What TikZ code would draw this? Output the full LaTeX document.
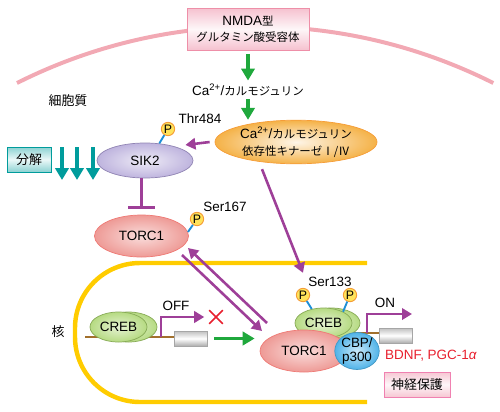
\documentclass[tikz,border=0pt]{standalone}
\usepackage{fontspec}
\setmainfont{Liberation Sans}
\newfontfamily\jp{Noto Sans CJK JP}[Scale=0.85]
\usepackage{tikz}
\usetikzlibrary{arrows.meta,shapes.geometric,shapes.misc,positioning}
\definecolor{membrane} {HTML}{F2A9B4}
\definecolor{recpink}  {HTML}{EE8FA8}
\definecolor{leaf}     {HTML}{1FA83C}
\definecolor{plum}     {HTML}{9E3F98}
\definecolor{tealink}  {HTML}{009C9C}
\definecolor{amber}    {HTML}{F4AE3E}
\definecolor{lilac}    {HTML}{A99BD3}
\definecolor{salmon}   {HTML}{EC8F8A}
\definecolor{moss}     {HTML}{A9D46C}
\definecolor{sky}      {HTML}{4FB3E8}
\definecolor{gold}     {HTML}{FFCC00}
\definecolor{bark}     {HTML}{A2702C}
\definecolor{pyellow}  {HTML}{FFE35A}
\definecolor{stick}    {HTML}{1E8FD6}
\definecolor{alarm}    {HTML}{E8202E}
\tikzset{
  every node/.style={font=\fontsize{11.5}{13.6}\selectfont},
  % --- nodes
  box/.style   = {draw, align=center, inner sep=2pt, line width=0.8pt},
  rec/.style   = {box, draw=recpink, top color=recpink!55, bottom color=recpink!55,
                  middle color=recpink!8, minimum width=36.6mm, minimum height=12.6mm},
  decay/.style = {box, draw=tealink, top color=tealink!45, bottom color=tealink!45,
                  middle color=tealink!8, minimum width=13.2mm, minimum height=7.5mm},
  guard/.style = {box, draw=recpink!90!magenta, top color=recpink!50, bottom color=recpink!50,
                  middle color=recpink!8, minimum width=19.8mm, minimum height=7.5mm},
  blob/.style  = {ellipse, draw, line width=0.6pt, align=center, inner sep=0pt},
  camk/.style  = {blob, draw=amber!90!red, inner color=amber!12, outer color=amber!95,
                  minimum width=48.6mm, minimum height=12.6mm},
  sik/.style   = {blob, draw=lilac!85!black, inner color=lilac!20, outer color=lilac!75,
                  minimum width=28.8mm, minimum height=10.5mm},
  torc/.style  = {blob, draw=salmon!85!red, inner color=salmon!30, outer color=salmon!90,
                  minimum width=28.2mm, minimum height=12.6mm},
  creb/.style  = {blob, draw=moss!80!black, inner color=moss!30, outer color=moss!85,
                  minimum width=17.1mm, minimum height=9mm},
  cbp/.style   = {blob, draw=sky!85!black, inner color=sky!30, outer color=sky,
                  minimum width=12.6mm, minimum height=9.6mm},
  phos/.style  = {circle, draw=amber!90!red, fill=pyellow, inner sep=0pt, minimum size=4mm,
                  line width=0.8pt, font=\fontsize{10.5}{10.5}\selectfont},
  lbl/.style   = {inner sep=1pt},
  % --- edges
  memb/.style  = {line width=3.4pt, draw=membrane},
  nuc/.style   = {line width=3.8pt, draw=gold, rounded corners=19.5mm},
  dna/.style   = {line width=2.5pt, draw=bark},
  ga/.style    = {-{Triangle[length=3.6mm,width=4mm]}, line width=3.2pt, draw=leaf},
  ta/.style    = {-{Triangle[length=3.6mm,width=4mm]}, line width=3.2pt, draw=tealink},
  pa/.style    = {-{Triangle[length=3mm,width=3.4mm]}, line width=2.2pt, draw=plum},
  inh/.style   = {-{Bar[width=8mm]}, line width=2.2pt, draw=plum},
  stk/.style   = {line width=1.6pt, draw=stick},
}
\begin{document}
\begin{tikzpicture}[x=0.3mm, y=-0.3mm,
  gbox/.style={draw=black!35, line width=0.6pt, top color=black!25, bottom color=black!32,
               middle color=white, minimum width=9.9mm, minimum height=4.5mm, inner sep=0pt},
]
  \useasboundingbox (0,0) rectangle (500,411);

  % membrane and nucleus
  \draw[memb] (17,83) arc[start angle=-116.7, end angle=-63.3, radius=530];
  \draw[nuc] (367,263) -- (75,263) -- (75,402) -- (367,402);

  % promoters
  \node[gbox] (gbL) at (190.5,338.5) {};
  \node[gbox] (gbR) at (395.5,335.5) {};
  \coordinate (dnaL) at (85,337);
  \coordinate (dnaR) at (350,333);
  \draw[dna] (dnaL) -- (dnaL -| gbL.west);
  \draw[dna] (dnaR) -- (dnaR -| gbR.west);

  \node[rec] (rec) at (248,29) {NMDA{\jp 型}\\{\jp グルタミン酸受容体}};
  \node[lbl] (calm) at (248,90) {Ca\textsuperscript{2+}/{\jp カルモジュリン}};
  \node[camk] (camk) at (296,142)
    {Ca\textsuperscript{2+}/{\jp カルモジュリン}\\[1pt]{\jp 依存性キナーゼⅠ/Ⅳ}};
  \node[lbl] (cyto) at (68,101) {\jp\fontsize{13}{13}\selectfont 細胞質};
  \node[lbl] (nucl) at (58,332) {\jp\fontsize{13}{13}\selectfont 核};

  \node[sik] (sik2) at (145,160.5) {SIK2};
  \node[decay] (decay) at (29,159.5) {\jp\fontsize{13}{13}\selectfont 分解};
  \node[phos] (p1) at (168,129) {P};
  \node[lbl] (thr) at (200,119) {Thr484};

  \node[torc] (torcA) at (141.5,236) {TORC1};
  \node[phos] (p2) at (197,219) {P};
  \node[lbl] (ser167) at (225,207) {Ser167};

  % CREB off
  \node[creb] (crebL2) at (128.5,327) {};
  \node[creb] (crebL) at (118.5,327) {CREB};
  \node[lbl] (off) at (176,306) {OFF};
  \node[cross out, draw=alarm, line width=1.3pt, minimum size=3.6mm, inner sep=0pt] (xm) at (216,317) {};

  % CREB on
  \node[creb] (crebR2) at (331.5,323) {};
  \node[creb] (crebR) at (323.5,323) {CREB};
  \node[torc, minimum width=26.4mm] (torcB) at (304,351) {TORC1};
  \node[cbp] (cbp) at (357,351) {CBP/\\[-2pt]p300};
  \node[phos] (pL) at (303,295) {P};
  \node[phos] (pR) at (350,295) {P};
  \node[lbl] (ser133) at (330,282) {Ser133};
  \node[lbl] (on) at (385,303) {ON};
  \node[lbl, text=alarm] (bdnf) at (431,356) {BDNF, PGC-1\textit{α}};
  \node[guard] (guard) at (417,384.5) {\jp\fontsize{13}{13}\selectfont 神経保護};

  % phospho sticks
  \draw[stk] (p1) -- (sik2.50);
  \draw[stk] (p2) -- (torcA.5);
  \draw[stk] (pL) -- (crebR.130);
  \draw[stk] (pR) -- (crebR.30);

  % arrows
  \draw[ga] ([yshift=-1mm]rec.south) -- ([yshift=0.6mm]calm.north);
  \draw[ga] ([yshift=-0.6mm]calm.south) -- (calm.south |- camk.north);
  \draw[pa] ([xshift=-1.5mm]camk.west) -- ([shift={(6,-3)}]sik2.20);
  \draw[pa] ([shift={(-34,5)}]camk.south) -- ([yshift=4.5mm]pL.north);
  \foreach \x [count=\i] in {62,77,93} {
    \coordinate (ta\i) at (\x,147);
    \coordinate (tb\i) at (\x,180);
    \draw[ta] (ta\i) -- (tb\i);
  }
  \draw[inh] (torcA.north |- sik2.south) -- ([yshift=1.8mm]torcA.north);
  \draw[pa] ([shift={(40.5,19)}]torcA.center) -- ([shift={(-42,-20)}]torcB.center);
  \draw[pa] ([shift={(-37,-28)}]torcB.center) -- ([shift={(46.5,12)}]torcA.center);
  \coordinate (offL) at (161,337);
  \draw[pa] (offL) |- ([xshift=-1.5mm]xm.west);
  \draw[ga] ([xshift=2.1mm]gbL.east) -- ([xshift=-1.5mm]gbL.east -| torcB.west);
  \coordinate (onR) at (367,333);
  \coordinate (onT) at (412,314);
  \draw[pa] (onR) |- (onT);
\end{tikzpicture}
\end{document}
